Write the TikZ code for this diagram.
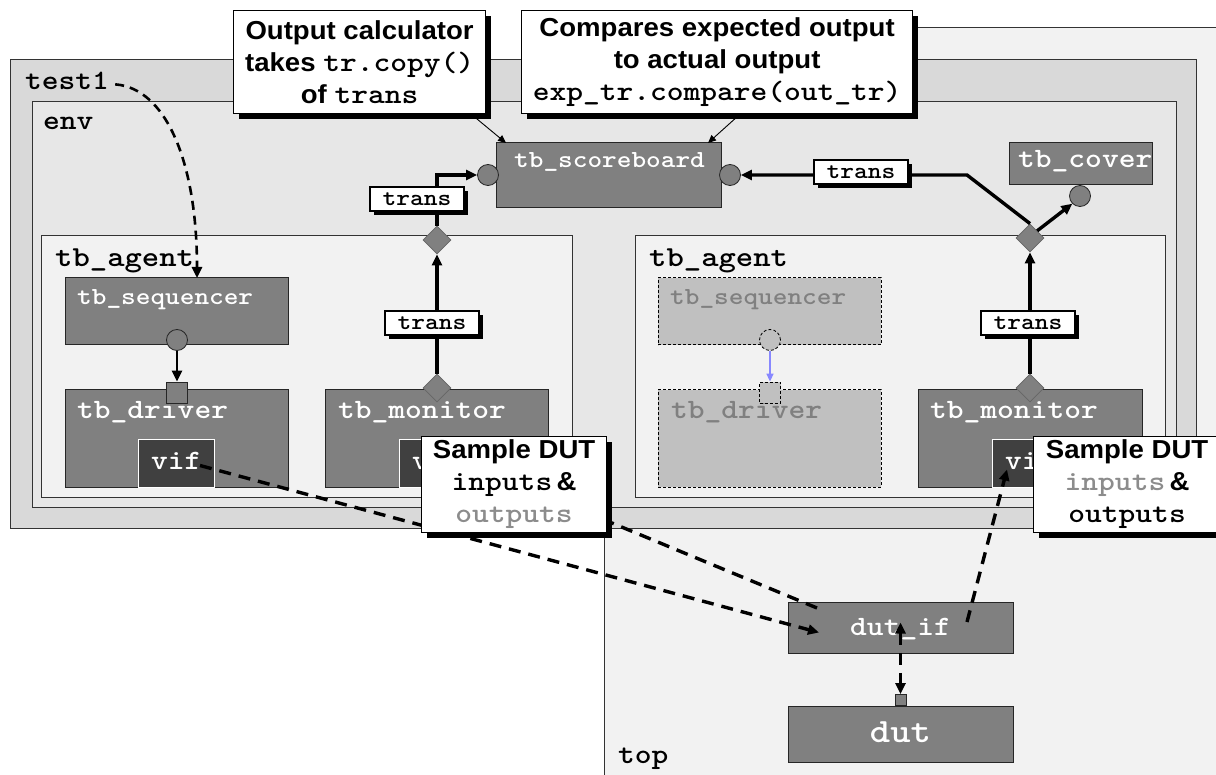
\documentclass[tikz,border=0pt]{standalone}
\usepackage{fontspec}
\usetikzlibrary{arrows.meta,shapes.geometric,shadows,calc}
\newfontfamily\cour{lmmonolt10-bold.otf}[FakeStretch=1.14]
\newfontfamily\sansb{Liberation Sans}[FakeStretch=1.06]
\newcommand\mf[1]{\cour\fontsize{#1}{#1}\selectfont}
\newcommand\mfc{\cour\fontsize{28}{32}\selectfont}
\newcommand\calfont{\sansb\bfseries\fontsize{26}{32}\selectfont}
\definecolor{topfill}{HTML}{F2F2F2}
\definecolor{tonefill}{HTML}{D9D9D9}
\definecolor{envfill}{HTML}{E7E7E7}
\definecolor{agfill}{HTML}{F2F2F2}
\definecolor{compgray}{HTML}{808080}
\definecolor{vifgray}{HTML}{404040}
\definecolor{ghostfill}{HTML}{C0C0C0}
\definecolor{ghosttext}{HTML}{808080}
\definecolor{greytext}{HTML}{8C8C8C}
\definecolor{bluearr}{HTML}{8888FF}
\tikzset{
 frame/.style={draw=black!80, line width=1pt, anchor=north west, inner sep=0, outer sep=0},
 comp/.style={draw=black!85, fill=compgray, line width=1pt, anchor=north west, inner sep=0, outer sep=0},
 ghost/.style={draw=black, dash pattern=on 3pt off 2pt, fill=ghostfill, line width=1pt, anchor=north west, inner sep=0, outer sep=0},
 vifbox/.style={draw=white, fill=vifgray, line width=1pt, anchor=north west, inner sep=0, outer sep=0},
 lbl/.style={anchor=base west, inner sep=0, text=black},
 wlbl/.style={anchor=base west, inner sep=0, text=white},
 glbl/.style={anchor=base west, inner sep=0, text=ghosttext},
 portc/.style={circle, draw=black!85, fill=compgray, line width=0.8pt, minimum size=21pt, inner sep=0},
 ports/.style={rectangle, draw=black!85, fill=compgray, line width=0.8pt, minimum size=21pt, inner sep=0},
 gportc/.style={circle, draw=black, dash pattern=on 3pt off 2pt, fill=ghostfill, line width=0.8pt, minimum size=21pt, inner sep=0},
 gports/.style={rectangle, draw=black, dash pattern=on 3pt off 2pt, fill=ghostfill, line width=0.8pt, minimum size=21pt, inner sep=0},
 dia/.style={diamond, draw=black!60, fill=compgray, line width=0.8pt, minimum width=28pt, minimum height=28pt, inner sep=0},
 conn/.style={line width=3.4pt, -{Triangle[length=11pt,width=10pt]}},
 bconn/.style={line width=1.5pt, draw=bluearr, -{Triangle[length=8pt,width=7pt]}},
 tag/.style={draw=black, fill=white, line width=1.2pt, minimum width=94pt, minimum height=24pt, inner sep=0, font=\mf{23}, general shadow={fill=black, shadow xshift=4pt, shadow yshift=-4pt}},
 callout/.style={draw=black, fill=white, line width=1.2pt, anchor=north west, inner sep=0, align=center, font=\calfont, general shadow={fill=black, shadow xshift=5pt, shadow yshift=-5pt}},
 dconn/.style={line width=3.4pt, dash pattern=on 12pt off 8pt, -{Triangle[length=11pt,width=10pt]}},
 thinarr/.style={line width=0.9pt, -{Triangle[length=8pt,width=7pt]}},
}
\begin{document}
\begin{tikzpicture}[x=1pt,y=-1pt]
\useasboundingbox (0,0) rectangle (1216,775);
\clip (0,0) rectangle (1216,775);
\fill[white] (0,0) rectangle (1216,775);
% frames
\node[frame, fill=topfill, minimum width=640pt, minimum height=780pt] (top) at (604,28) {};
\node[frame, fill=tonefill, minimum width=1186pt, minimum height=468pt] (test1) at (10,60) {};
\node[frame, fill=envfill, minimum width=1144pt, minimum height=405pt] (env) at (32,102) {};
\node[frame, fill=agfill, minimum width=531pt, minimum height=261pt] (agL) at (41,236) {};
\node[frame, fill=agfill, minimum width=530pt, minimum height=261pt] (agR) at (635,236) {};
\node[lbl, font=\mf{28}] (t_test1) at (25,90) {test1};
\node[lbl, font=\mf{28}] (t_env) at (43,130) {env};
\node[lbl, font=\mf{29}] (t_agL) at (55,267) {tb\_agent};
\node[lbl, font=\mf{29}] (t_agR) at (649,267) {tb\_agent};
\node[lbl, font=\mf{28}] (t_top) at (618,763) {top};
% components
\node[comp, minimum width=225pt, minimum height=65pt] (sb) at (496,143) {};
\node[wlbl, font=\mf{24.5}] (t_sb) at (514,168) {tb\_scoreboard};
\node[comp, minimum width=143pt, minimum height=42pt] (cov) at (1009,143) {};
\node[wlbl, font=\mf{28}] (t_cov) at (1018,168) {tb\_cover};
\node[comp, minimum width=223pt, minimum height=67pt] (seqL) at (65,278) {};
\node[wlbl, font=\mf{24.5}] (t_seqL) at (77,305) {tb\_sequencer};
\node[comp, minimum width=223pt, minimum height=97pt] (drvL) at (65,390) {};
\node[wlbl, font=\mf{28}] (t_drvL) at (77,419) {tb\_driver};
\node[vifbox, minimum width=76pt, minimum height=47pt] (vifL) at (138,440) {};
\node[wlbl, font=\mf{28}] (t_vifL) at (151,469) {vif};
\node[comp, minimum width=223pt, minimum height=97pt] (monL) at (325,390) {};
\node[wlbl, font=\mf{28}] (t_monL) at (338,419) {tb\_monitor};
\node[vifbox, minimum width=76pt, minimum height=47pt] (vifML) at (399,440) {};
\node[wlbl, font=\mf{28}] (t_vifML) at (412,469) {vif};
\node[ghost, minimum width=223pt, minimum height=67pt] (seqR) at (658,278) {};
\node[glbl, font=\mf{24.5}] (t_seqR) at (670,305) {tb\_sequencer};
\node[ghost, minimum width=223pt, minimum height=97pt] (drvR) at (658,390) {};
\node[glbl, font=\mf{28}] (t_drvR) at (671,419) {tb\_driver};
\node[comp, minimum width=224pt, minimum height=97pt] (monR) at (918,390) {};
\node[wlbl, font=\mf{28}] (t_monR) at (930,419) {tb\_monitor};
\node[vifbox, minimum width=76pt, minimum height=47pt] (vifMR) at (992,440) {};
\node[wlbl, font=\mf{28}] (t_vifMR) at (1005,469) {vif};
\node[comp, minimum width=225pt, minimum height=51pt] (dutif) at (788,602) {};
\node[wlbl, font=\mf{28}, anchor=base] (t_dutif) at (900.5,635) {dut\_if};
\node[comp, minimum width=225pt, minimum height=56pt] (dut) at (788,706) {};
\node[wlbl, font=\mf{34}, anchor=base] (t_dut) at (900.5,742) {dut};
% ports
\node[portc] (sbL) at (488,175) {};
\node[portc] (sbR) at (730,175) {};
\node[portc] (covP) at (1080,196) {};
\node[portc] (pSeqL) at (177,340) {};
\node[ports] (pDrvL) at (177,392.5) {};
\node[gportc] (pSeqR) at (770,340) {};
\node[gports] (pDrvR) at (770,392.5) {};
\node[dia] (dLt) at (437,240) {};
\node[dia] (dLm) at (437,388) {};
\node[dia] (dRt) at (1030,238) {};
\node[dia] (dRm) at (1030,388) {};
\node[ports, minimum size=11pt] (dutP) at (900.5,700) {};
% solid connectors
\draw[conn] (dLm.north) -- (dLt.south);
\draw[conn] (dLt.north) |- (sbL.west);
\draw[conn] (dRm.north) -- (dRt.south);
\coordinate (bendR) at (967,175);
\draw[conn] (dRt.north) -- (bendR) -- (sbR.east);
\draw[conn] (dRt.north east) -- (covP.south west);
\draw[conn, line width=2.6pt] (pSeqL.south) -- (pDrvL.north);
\draw[bconn] (pSeqR.south) -- (pDrvR.north);
% tags
\node[tag] (tagL1) at (417,199) {trans};
\node[tag] (tagL2) at (432,323) {trans};
\node[tag] (tagR2) at (1028,323) {trans};
\node[tag] (tagR1) at (861,172) {trans};
% dashed connectors
\draw[dconn, line width=2.6pt, dash pattern=on 9pt off 6pt] ([xshift=6pt,yshift=-3pt]t_test1.east) .. controls (165,88) and (197,160) .. ($(seqL.north west)+(132,0)$);
\draw[dconn] ($(vifL.center)+(24,2)$) -- ($(dutif.west)+(31,5)$);
\draw[dconn] ($(dutif.north west)+(29,6)$) -- ($(vifML.center)+(0,-13)$);
\draw[dconn] ($(dutif.north west)+(179,20)$) -- ($(vifMR.center)+(-23,6)$);
\draw[line width=3.4pt, dash pattern=on 12pt off 8pt, {Triangle[length=11pt,width=10pt]}-{Triangle[length=11pt,width=10pt]}] ($(dutif.center)+(0,-5)$) -- (dutP.north);
% callouts
\node[callout, minimum width=252pt, minimum height=103pt] (c1) at (233,10) {Output calculator\\takes {\mfc tr.copy()}\\of {\mfc trans}};
\node[callout, minimum width=391pt, minimum height=103pt] (c2) at (521,10) {Compares expected output\\to actual output\\{\mfc exp\_tr.compare(out\_tr)}};
\node[callout, minimum width=185pt, minimum height=96pt] (c3) at (421,436) {Sample DUT\\{\mfc inputs}\,\&\\{\mfc\color{greytext}outputs}};
\node[callout, minimum width=187pt, minimum height=96pt] (c4) at (1033,436) {Sample DUT\\{\mfc\color{greytext}inputs}\,\&\\{\mfc outputs}};
\draw[thinarr] ($(c1.south east)+(-15,0)$) -- ($(sb.north west)+(10,0)$);
\draw[thinarr] ($(c2.south west)+(219,0)$) -- ($(sb.north east)+(-13,0)$);
\end{tikzpicture}
\end{document}
